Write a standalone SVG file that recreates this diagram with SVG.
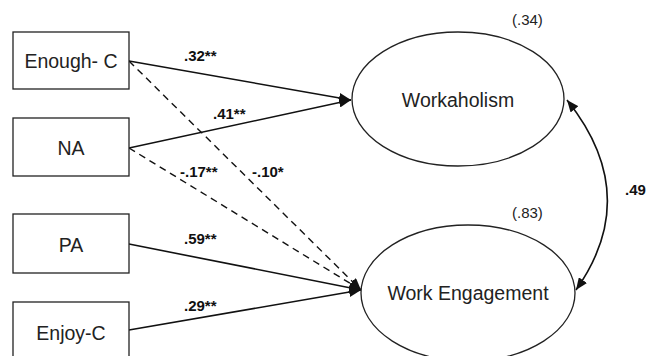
<svg xmlns="http://www.w3.org/2000/svg" width="662" height="356" viewBox="0 0 662 356">
<defs>
<marker id="arr" viewBox="0 0 12 10" refX="12" refY="5" markerWidth="12" markerHeight="10" markerUnits="userSpaceOnUse" orient="auto-start-reverse">
<path d="M0,0 L12,5 L0,10 Z" fill="#111"/>
</marker>
<style>
.box{fill:#fff;stroke:#222;stroke-width:1.3}
.ell{fill:#fff;stroke:#222;stroke-width:1.3}
.lbl{font-family:"Liberation Sans",Arial,sans-serif;font-size:19.5px;fill:#222;text-anchor:middle}
.coef{font-family:"Liberation Sans",Arial,sans-serif;font-size:15px;font-weight:bold;fill:#111}
.r2{font-family:"Liberation Sans",Arial,sans-serif;font-size:15px;fill:#222}
.solid{fill:none;stroke:#111;stroke-width:1.6;marker-end:url(#arr)}
.dash{fill:none;stroke:#111;stroke-width:1.4;stroke-dasharray:7 5;marker-end:url(#arr)}
</style>
</defs>
<rect width="662" height="356" fill="#fff"/>
<g id="connectors">
<line class="solid" x1="129" y1="61" x2="351" y2="100"/>
<line class="solid" x1="129" y1="148" x2="351" y2="100"/>
<line class="dash" x1="129" y1="61" x2="361" y2="290"/>
<line class="dash" x1="129" y1="148" x2="361" y2="290"/>
<line class="solid" x1="129" y1="244" x2="361" y2="290"/>
<line class="solid" x1="129" y1="330" x2="361" y2="290"/>
<path d="M567,100 Q643,195 576,290" fill="none" stroke="#111" stroke-width="1.6" marker-start="url(#arr)" marker-end="url(#arr)"/>
<text class="coef" x="184" y="61">.32**</text>
<text class="coef" x="213" y="119">.41**</text>
<text class="coef" x="180" y="177">-.17**</text>
<text class="coef" x="252" y="177">-.10*</text>
<text class="coef" x="184" y="244">.59**</text>
<text class="coef" x="184" y="311">.29**</text>
<text class="coef" x="625" y="195">.49</text>
</g>
<g id="enough-c">
<rect class="box" x="13" y="32" width="116" height="57"/>
<text class="lbl" x="71" y="68">Enough- C</text>
</g>
<g id="na">
<rect class="box" x="13" y="118" width="116" height="58"/>
<text class="lbl" x="71" y="155">NA</text>
</g>
<g id="pa">
<rect class="box" x="13" y="214" width="116" height="59"/>
<text class="lbl" x="71" y="252">PA</text>
</g>
<g id="enjoy-c">
<rect class="box" x="13" y="302" width="116" height="70"/>
<text class="lbl" x="71" y="340">Enjoy-C</text>
</g>
<g id="workaholism">
<ellipse class="ell" cx="458" cy="99" rx="106" ry="67"/>
<text class="lbl" x="458" y="107">Workaholism</text>
<text class="r2" x="512" y="25">(.34)</text>
</g>
<g id="work-engagement">
<ellipse class="ell" cx="468" cy="293" rx="107" ry="68"/>
<text class="lbl" x="468" y="300">Work Engagement</text>
<text class="r2" x="512" y="218">(.83)</text>
</g>
</svg>
